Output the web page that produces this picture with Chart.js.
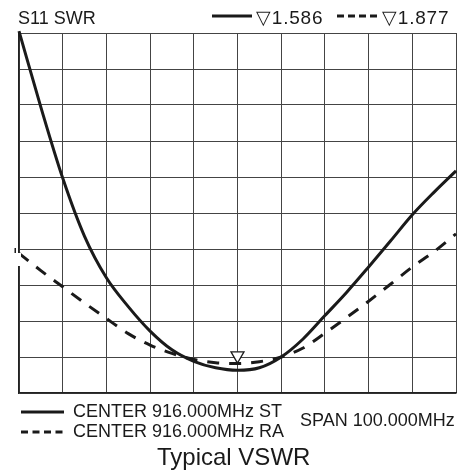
<!DOCTYPE html>
<html>
<head>
<meta charset="utf-8">
<script src="https://cdn.jsdelivr.net/npm/chart.js@4"></script>
<style>
  html, body { margin: 0; padding: 0; background: #fff; }
  #wrap { position: relative; width: 469px; height: 474px; }
  #chart { position: absolute; left: 0; top: 0; }
  .t { position: absolute; font-family: "Liberation Sans", Arial, sans-serif; font-size: 18px;
       line-height: 1; color: #1a1a1a; white-space: nowrap; }
  .m { font-size: 19px; letter-spacing: 0.8px; }
  .key { position: absolute; }
</style>
</head>
<body>
<div id="wrap">
  <canvas id="chart" width="469" height="474"></canvas>
  <div class="t" style="left:18px;top:8.5px">S11 SWR</div>
  <svg class="key" style="left:212px;top:10px" width="40" height="12"><line x1="0" y1="6" x2="40" y2="6" stroke="#1a1a1a" stroke-width="3"/></svg>
  <div class="t m" style="left:256px;top:7.5px">▽1.586</div>
  <svg class="key" style="left:337px;top:10px" width="40" height="12"><line x1="0" y1="6" x2="40" y2="6" stroke="#1a1a1a" stroke-width="3" stroke-dasharray="7 4"/></svg>
  <div class="t m" style="left:382px;top:7.5px">▽1.877</div>

  <svg class="key" style="left:21px;top:406px" width="43" height="12"><line x1="0" y1="6" x2="43" y2="6" stroke="#1a1a1a" stroke-width="3"/></svg>
  <div class="t" style="left:73px;top:402px">CENTER 916.000MHz ST</div>
  <svg class="key" style="left:21px;top:426px" width="43" height="12"><line x1="0" y1="6" x2="43" y2="6" stroke="#1a1a1a" stroke-width="3" stroke-dasharray="7 4.5"/></svg>
  <div class="t" style="left:73px;top:422px">CENTER 916.000MHz RA</div>
  <div class="t" style="left:300px;top:411px">SPAN 100.000MHz</div>
  <div class="t" style="left:157px;top:445px;font-size:24px">Typical VSWR</div>
</div>
<script>
// frequency points (MHz), one every half division
var freqs = [866, 871, 876, 881, 886, 891, 896, 901, 906, 911, 916,
             921, 926, 931, 936, 941, 946, 951, 956, 961, 966];
// SWR traces, in grid divisions from the bottom of the screen
var stValues = [10.05, 7.94, 5.97, 4.35, 3.2, 2.4, 1.72, 1.2, 0.88, 0.7, 0.63,
                0.7, 1.0, 1.5, 2.15, 2.8, 3.5, 4.22, 4.95, 5.58, 6.17];
var raValues = [3.88, 3.4, 2.95, 2.5, 2.07, 1.65, 1.33, 1.1, 0.93, 0.84, 0.82,
                0.87, 1.0, 1.25, 1.66, 2.1, 2.55, 3.02, 3.5, 3.93, 4.42];
// marker
var markerFreq = [916];
var markerLevel = [1.04];
// reference level indicator on the left edge
var refLevel = 4;

var xTicks = [866, 966, 10];   // min, max, step
var yTicks = [0, 10, 1];

function pts(xs, ys) {
    return xs.map(function (x, i) { return { x: x, y: ys[i] }; });
}

var refMark = {
    id: 'refMark',
    afterDraw: function (chart) {
        var c = chart.ctx, a = chart.chartArea;
        var y = chart.scales.y.getPixelForValue(refLevel);
        c.save();
        c.fillStyle = '#fff';
        c.fillRect(a.left - 2, y + 4, 4, 13);
        c.fillStyle = '#1a1a1a';
        c.fillRect(a.left - 4.5, y - 1, 1.5, 5);
        c.restore();
    }
};

var ctx = document.getElementById('chart').getContext('2d');
var chart = new Chart(ctx, {
    type: 'line',
    data: {
        datasets: [{
            label: 'ST',
            data: pts(freqs, stValues),
            borderColor: '#1a1a1a',
            borderWidth: 3,
            pointRadius: 0,
            cubicInterpolationMode: 'monotone',
            clip: 4
        }, {
            label: 'RA',
            data: pts(freqs, raValues),
            borderColor: '#1a1a1a',
            borderWidth: 3,
            borderDash: [12, 10],
            pointRadius: 0,
            cubicInterpolationMode: 'monotone',
            clip: 4
        }, {
            label: 'marker',
            data: pts(markerFreq, markerLevel),
            showLine: false,
            pointStyle: 'triangle',
            rotation: 180,
            pointRadius: 7.5,
            pointBackgroundColor: '#fff',
            pointBorderColor: '#1a1a1a',
            pointBorderWidth: 1.3
        }]
    },
    options: {
        animation: false,
        responsive: false,
        layout: { padding: { left: 19, top: 33, right: 13, bottom: 81 } },
        plugins: { legend: { display: false }, tooltip: { enabled: false } },
        scales: {
            x: {
                type: 'linear',
                min: xTicks[0], max: xTicks[1],
                ticks: { display: false, stepSize: xTicks[2] },
                grid: { color: '#444', lineWidth: 1, drawTicks: false },
                border: { color: '#222', width: 1.5 }
            },
            y: {
                min: yTicks[0], max: yTicks[1],
                ticks: { display: false, stepSize: yTicks[2] },
                grid: { color: '#444', lineWidth: 1, drawTicks: false },
                border: { color: '#222', width: 1.5 }
            }
        }
    },
    plugins: [refMark]
});
</script>
</body>
</html>
